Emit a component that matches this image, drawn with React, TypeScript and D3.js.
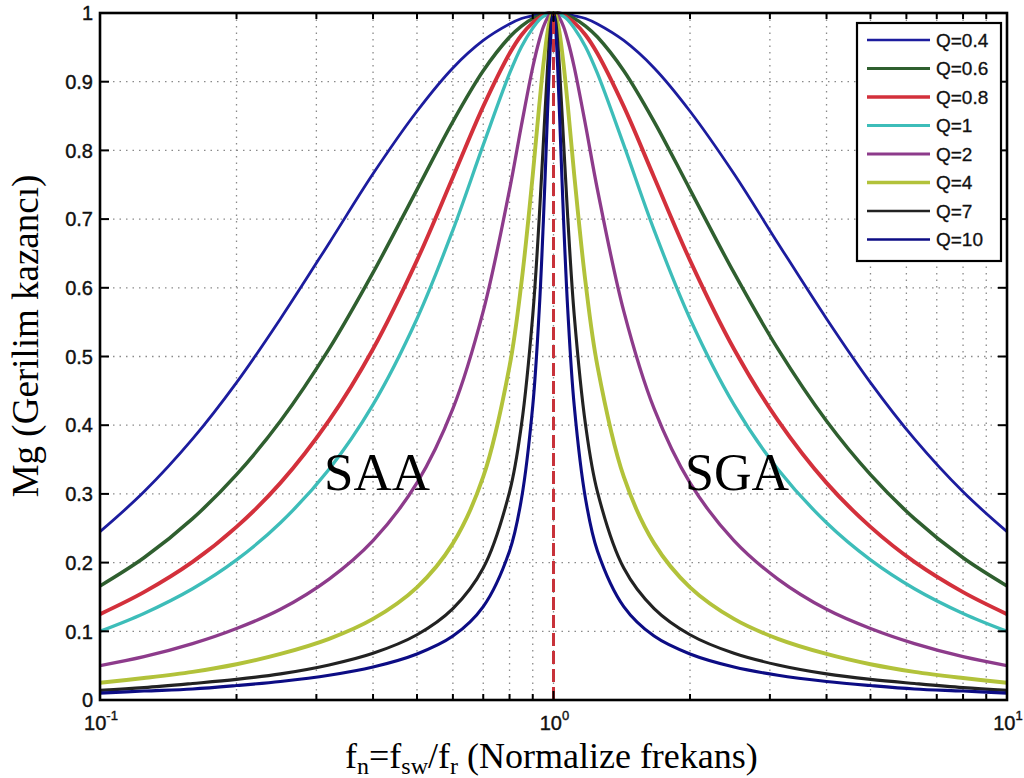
import React from 'react';
import * as d3 from 'd3';

const W = 1024;
const H = 778;
const PLOT = { left: 100, right: 1007, top: 13, bottom: 700 };

// normalized frequency sample points (fn)
const fnPoints = [
  0.1, 0.125, 0.16, 0.2, 0.25, 0.32, 0.4, 0.5, 0.6, 0.7, 0.8, 0.85, 0.9, 0.93, 0.95, 0.97, 0.98, 0.99, 1,
  1.0101, 1.0204, 1.0309, 1.0526, 1.0753, 1.1111, 1.1765, 1.25, 1.4286, 1.6667, 2, 2.5, 3.125, 4, 5, 6.25, 8, 10,
];

// gain readings per Q
const gainQ04 = [
  0.245, 0.303, 0.38, 0.462, 0.555, 0.665, 0.766, 0.857, 0.92, 0.96, 0.984, 0.992, 0.996, 0.998, 0.999, 1, 1, 1, 1,
  1, 1, 1, 0.999, 0.998, 0.996, 0.992, 0.984, 0.96, 0.92, 0.857, 0.766, 0.665, 0.555, 0.462, 0.38, 0.303, 0.245,
];
const gainQ06 = [
  0.166, 0.207, 0.264, 0.328, 0.406, 0.511, 0.622, 0.743, 0.842, 0.916, 0.965, 0.981, 0.992, 0.996, 0.998, 0.999, 1, 1, 1,
  1, 1, 0.999, 0.998, 0.996, 0.992, 0.981, 0.965, 0.916, 0.842, 0.743, 0.622, 0.511, 0.406, 0.328, 0.264, 0.207, 0.166,
];
const gainQ08 = [
  0.125, 0.157, 0.201, 0.252, 0.316, 0.407, 0.511, 0.64, 0.761, 0.864, 0.941, 0.968, 0.986, 0.993, 0.997, 0.999, 0.999, 1, 1,
  1, 0.999, 0.999, 0.997, 0.993, 0.986, 0.968, 0.941, 0.864, 0.761, 0.64, 0.511, 0.407, 0.316, 0.252, 0.201, 0.157, 0.125,
];
const gainQ1 = [
  0.1, 0.126, 0.162, 0.204, 0.258, 0.336, 0.43, 0.555, 0.684, 0.808, 0.912, 0.951, 0.978, 0.99, 0.995, 0.998, 0.999, 1, 1,
  1, 0.999, 0.998, 0.995, 0.99, 0.978, 0.951, 0.912, 0.808, 0.684, 0.555, 0.43, 0.336, 0.258, 0.204, 0.162, 0.126, 0.1,
];
const gainQ2 = [
  0.05, 0.063, 0.082, 0.104, 0.132, 0.176, 0.232, 0.316, 0.424, 0.566, 0.743, 0.837, 0.921, 0.96, 0.98, 0.993, 0.997, 0.999, 1,
  0.999, 0.997, 0.993, 0.98, 0.96, 0.921, 0.837, 0.743, 0.566, 0.424, 0.316, 0.232, 0.176, 0.132, 0.104, 0.082, 0.063, 0.05,
];
const gainQ4 = [
  0.025, 0.032, 0.041, 0.052, 0.067, 0.089, 0.118, 0.164, 0.228, 0.325, 0.486, 0.608, 0.764, 0.865, 0.925, 0.972, 0.987, 0.997, 1,
  0.997, 0.987, 0.972, 0.925, 0.865, 0.764, 0.608, 0.486, 0.325, 0.228, 0.164, 0.118, 0.089, 0.067, 0.052, 0.041, 0.032, 0.025,
];
const gainQ7 = [
  0.014, 0.018, 0.024, 0.03, 0.038, 0.051, 0.068, 0.095, 0.133, 0.192, 0.303, 0.401, 0.56, 0.701, 0.812, 0.92, 0.962, 0.99, 1,
  0.99, 0.962, 0.92, 0.812, 0.701, 0.56, 0.401, 0.303, 0.192, 0.133, 0.095, 0.068, 0.051, 0.038, 0.03, 0.024, 0.018, 0.014,
];
const gainQ10 = [
  0.01, 0.013, 0.016, 0.021, 0.027, 0.036, 0.048, 0.067, 0.093, 0.136, 0.217, 0.293, 0.428, 0.567, 0.698, 0.854, 0.927, 0.98, 1,
  0.98, 0.927, 0.854, 0.698, 0.567, 0.428, 0.293, 0.217, 0.136, 0.093, 0.067, 0.048, 0.036, 0.027, 0.021, 0.016, 0.013, 0.01,
];

const seriesNames = ['Q=0.4', 'Q=0.6', 'Q=0.8', 'Q=1', 'Q=2', 'Q=4', 'Q=7', 'Q=10'];
const yTickValues = [0, 0.1, 0.2, 0.3, 0.4, 0.5, 0.6, 0.7, 0.8, 0.9, 1];
const xTickExponents = ['-1', '0', '1'];

const series = [
  { name: seriesNames[0], values: gainQ04, color: '#1c1c9e', width: 2.8 },
  { name: seriesNames[1], values: gainQ06, color: '#2f5f2f', width: 3.5 },
  { name: seriesNames[2], values: gainQ08, color: '#d3303b', width: 3.9 },
  { name: seriesNames[3], values: gainQ1, color: '#3dbdb9', width: 3.3 },
  { name: seriesNames[4], values: gainQ2, color: '#8d3b8b', width: 3.3 },
  { name: seriesNames[5], values: gainQ4, color: '#b2c23a', width: 3.9 },
  { name: seriesNames[6], values: gainQ7, color: '#222222', width: 3.1 },
  { name: seriesNames[7], values: gainQ10, color: '#0c0c84', width: 3.1 },
];

const sans = '"Liberation Sans", Arial, Helvetica, sans-serif';
const serif = '"Liberation Serif", "Times New Roman", Times, serif';

export default function App() {
  const x = d3.scaleLog().domain([0.1, 10]).range([PLOT.left, PLOT.right]);
  const y = d3.scaleLinear().domain([0, 1]).range([PLOT.bottom, PLOT.top]);

  const line = d3
    .line<number>()
    .x((_, i) => x(fnPoints[i]))
    .y((d) => y(d))
    .curve(d3.curveCatmullRom.alpha(0.5));

  const xTicks = x.ticks(); // 0.1..0.9, 1..9, 10
  const majors = [0.1, 1, 10];

  const legend = { x: 857, y: 23, w: 144, h: 238, rowH: 28.5 };

  return (
    <svg
      width={W}
      height={H}
      viewBox={`0 0 ${W} ${H}`}
      style={{ position: 'absolute', left: 0, top: 0, background: '#fff' }}
    >
      <defs>
        <clipPath id="plot-clip">
          <rect x={PLOT.left} y={PLOT.top - 4} width={PLOT.right - PLOT.left} height={PLOT.bottom - PLOT.top + 4} />
        </clipPath>
      </defs>
      <rect width={W} height={H} fill="#fff" />

      {/* grid */}
      <g stroke="#8a8a8a" strokeWidth={1.3} strokeDasharray="1.5,5">
        {xTicks.map((t) => (
          <line key={'gx' + t} x1={x(t)} x2={x(t)} y1={PLOT.top} y2={PLOT.bottom} />
        ))}
        {yTickValues.map((t) => (
          <line key={'gy' + t} x1={PLOT.left} x2={PLOT.right} y1={y(t)} y2={y(t)} />
        ))}
      </g>

      {/* curves */}
      <g clipPath="url(#plot-clip)" fill="none" strokeLinejoin="round" strokeLinecap="round">
        {series.map((s) => (
          <path key={s.name} d={line(s.values) || ''} stroke={s.color} strokeWidth={s.width} />
        ))}
      </g>

      {/* resonance marker */}
      <line
        x1={x(1)}
        x2={x(1)}
        y1={y(0)}
        y2={y(1)}
        stroke="#c8323a"
        strokeWidth={3}
        strokeDasharray="13,5"
      />

      {/* ticks */}
      <g stroke="#000" strokeWidth={2}>
        {xTicks.map((t) => {
          const len = majors.includes(t) ? 9 : 6;
          return (
            <g key={'tx' + t}>
              <line x1={x(t)} x2={x(t)} y1={PLOT.bottom} y2={PLOT.bottom - len} />
              <line x1={x(t)} x2={x(t)} y1={PLOT.top} y2={PLOT.top + len} />
            </g>
          );
        })}
        {yTickValues.map((t) => (
          <g key={'ty' + t}>
            <line x1={PLOT.left} x2={PLOT.left + 9} y1={y(t)} y2={y(t)} />
            <line x1={PLOT.right} x2={PLOT.right - 9} y1={y(t)} y2={y(t)} />
          </g>
        ))}
      </g>

      {/* axes box */}
      <rect
        x={PLOT.left}
        y={PLOT.top}
        width={PLOT.right - PLOT.left}
        height={PLOT.bottom - PLOT.top}
        fill="none"
        stroke="#000"
        strokeWidth={2.6}
      />

      {/* y tick labels */}
      <g fontFamily={sans} fontSize={20} fill="#111" stroke="#111" strokeWidth={0.4} textAnchor="end">
        {yTickValues.map((t) => (
          <text key={'ly' + t} x={PLOT.left - 7} y={y(t)} dy="0.36em">
            {d3.format('~g')(t)}
          </text>
        ))}
      </g>

      {/* x tick labels */}
      <g fontFamily={sans} fill="#111" stroke="#111" strokeWidth={0.4}>
        {majors.map((t, i) => (
          <text key={'lx' + t} x={x(t) + 1} y={730} textAnchor="middle" fontSize={20}>
            10
            <tspan fontSize={13} dy={-10}>
              {xTickExponents[i]}
            </tspan>
          </text>
        ))}
      </g>

      {/* region labels */}
      <g fontFamily={serif} fill="#000">
        <text x={377} y={490} fontSize={53} textAnchor="middle">SAA</text>
        <text x={737} y={490} fontSize={52} textAnchor="middle">SGA</text>
      </g>

      {/* axis titles */}
      <text fontFamily={serif} fontSize={36} x={345} y={768}>
        f<tspan fontSize={24} dy={6}>n</tspan>
        <tspan dy={-6}>=f</tspan>
        <tspan fontSize={24} dy={6}>sw</tspan>
        <tspan dy={-6}>/f</tspan>
        <tspan fontSize={24} dy={6}>r</tspan>
        <tspan dy={-6}> (Normalize frekans)</tspan>
      </text>
      <text
        fontFamily={serif}
        fontSize={37}
        textAnchor="middle"
        transform={`translate(38, 336) rotate(-90)`}
      >
        Mg (Gerilim kazancı)
      </text>

      {/* legend */}
      <g>
        <rect x={legend.x} y={legend.y} width={legend.w} height={legend.h} fill="#fff" stroke="#000" strokeWidth={2.2} />
        {series.map((s, i) => {
          const cy = legend.y + 17 + i * legend.rowH;
          return (
            <g key={'lg' + s.name}>
              <line x1={867} x2={930} y1={cy} y2={cy} stroke={s.color} strokeWidth={Math.max(2.4, s.width - 0.4)} />
              <text x={936} y={cy} dy="0.36em" fontFamily={sans} fontSize={19} fill="#111" stroke="#111" strokeWidth={0.3}>
                {s.name}
              </text>
            </g>
          );
        })}
      </g>
    </svg>
  );
}
